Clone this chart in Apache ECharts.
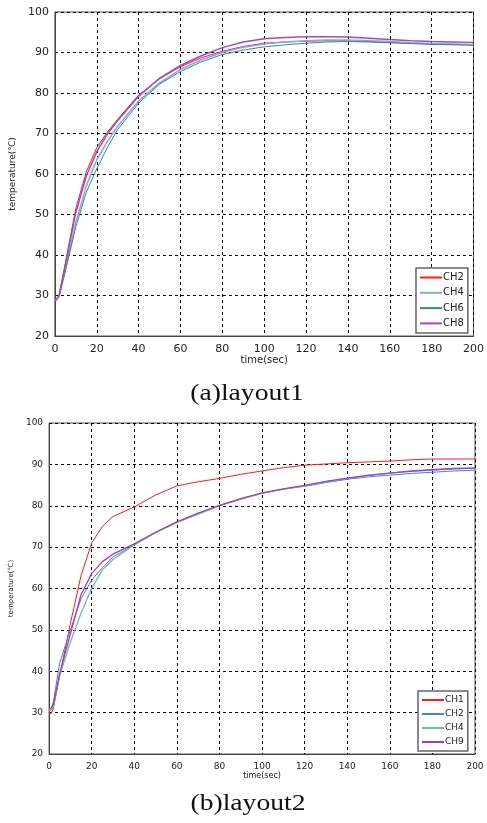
<!DOCTYPE html>
<html><head><meta charset="utf-8">
<script src="https://cdn.jsdelivr.net/npm/echarts@6/dist/echarts.min.js"></script>
<style>html,body{margin:0;padding:0;background:#fff}#c{width:487px;height:823px}</style>
</head><body><div id="c"></div>
<script>
// Chart (a) layout1
const timeA = [0,2,5,10,15,20,25,30,40,50,60,70,80,90,100,110,120,130,140,150,160,170,180,190,200];
const a_CH2 = [28.5,30,38,51.5,60.5,66.5,70.3,73.5,79.5,83.5,86.5,88.7,90.3,91.5,92.3,92.6,92.8,92.9,92.9,92.7,92.5,92.3,92.1,92.0,91.9];
const a_CH4 = [28.5,29.8,36.5,48,57,63.5,68,71.8,78,82.5,85.8,88.2,90,91.3,92.1,92.6,92.9,93.1,93.1,92.9,92.7,92.4,92.2,92.1,92.0];
const a_CH6 = [28.5,29.8,36,47,55.5,61.3,66.5,71,77.5,82.2,85.3,87.7,89.5,90.6,91.4,91.9,92.3,92.6,92.7,92.6,92.4,92.2,92.0,91.9,91.8];
const a_CH8 = [28.5,30,37.5,50.5,59.5,65.5,69.8,73.2,79.2,83.6,86.8,89.2,91.2,92.6,93.4,93.7,93.9,93.9,93.8,93.5,93.2,92.9,92.7,92.6,92.5];
// Chart (b) layout2
const timeB = [0,1,2,5,10,15,20,25,30,40,50,60,70,80,90,100,110,120,130,140,150,160,170,180,190,200];
const b_CH1 = [29.8,29.8,31,39,51.5,63.1,71,75,77.4,79.7,82.6,84.8,85.8,86.6,87.6,88.4,89.2,89.8,90.1,90.4,90.6,90.8,91.1,91.3,91.3,91.3];
const b_CH2 = [31,31,32.5,42,50,57.5,62,65,67.6,70.6,73.5,76,78,80,81.6,83,84,84.7,85.6,86.4,87,87.4,87.8,88.1,88.4,88.6];
const b_CH4 = [30.5,30.5,31.5,39,47,54,60,64.5,67,70.5,73.5,76,78,80,81.6,83,84,84.8,85.8,86.6,87.3,87.9,88.3,88.6,88.9,89.1];
const b_CH9 = [31,31,32,39.5,49,58.5,63.6,66.5,68.3,70.8,73.6,76.1,78.2,80.1,81.7,83.1,84.1,84.9,85.9,86.7,87.4,87.9,88.4,88.7,89.0,89.1];
const xTicks = [0,20,40,60,80,100,120,140,160,180,200];
const yTicks = [20,30,40,50,60,70,80,90,100];

const pair = (t, v) => t.map((x, i) => [x, v[i]]);
const chart = echarts.init(document.getElementById('c'), null, {renderer: 'canvas'});
const font = 'DejaVu Sans';
function xAx(gi, fs, gap) {
  return {type:'value', gridIndex:gi, min:xTicks[0], max:xTicks[xTicks.length-1], interval:20,
    name:'time(sec)', nameLocation:'middle', nameGap:gap,
    nameTextStyle:{fontFamily:font, fontSize:fs-1, color:'#222'},
    axisLine:{show:true, lineStyle:{color:'#444'}}, axisTick:{show:false},
    axisLabel:{fontFamily:font, fontSize:fs, color:'#222', margin:8},
    splitLine:{show:true, lineStyle:{color:'#000', type:[3,3], width:1}}};
}
function yAx(gi, fs, gap) {
  return {type:'value', gridIndex:gi, min:yTicks[0], max:yTicks[yTicks.length-1], interval:10,
    name:'temperature(℃)', nameLocation:'middle', nameGap:gap, nameRotate:90,
    nameTextStyle:{fontFamily:font, fontSize:fs-2, color:'#222'},
    axisLine:{show:true, lineStyle:{color:'#444'}}, axisTick:{show:false},
    axisLabel:{fontFamily:font, fontSize:fs, color:'#222', margin:6},
    splitLine:{show:true, lineStyle:{color:'#000', type:[3,3], width:1}}};
}
function ser(name, gi, t, v, color, w) {
  return {name, type:'line', xAxisIndex:gi, yAxisIndex:gi, data:pair(t, v), symbol:'none', showSymbol:false,
    smooth:false, lineStyle:{color, width:w}, itemStyle:{color}, animation:false, z:3};
}
function leg(names, left, top, fs, lh, gap) {
  return {orient:'vertical', left, top, data:names, backgroundColor:'#fff', borderColor:'#666', borderWidth:1.5,
    padding:[3,4,3,4], icon:'rect', itemWidth:22, itemHeight:2, itemGap:gap, borderRadius:0,
    formatter: n => n.slice(2), textStyle:{fontFamily:font, fontSize:fs, lineHeight:lh, color:'#222', padding:[0,0,0,-4]}, selectedMode:false};
}
chart.setOption({
  backgroundColor:'#fff',
  animation:false,
  grid:[{left:45, top:12, width:429, height:324, show:true, borderColor:'#555', borderWidth:1, backgroundColor:'#fff'},
        {left:43, top:423, width:432, height:331, show:true, borderColor:'#555', borderWidth:1, backgroundColor:'#fff'}],
  xAxis:[xAx(0, 11, 18), xAx(1, 9, 16)],
  yAxis:[yAx(0, 11, 17), yAx(1, 9, 19)],
  legend:[leg(['a:CH2','a:CH4','a:CH6','a:CH8'], 416, 268, 10, 13, 2.3),
          leg(['b:CH1','b:CH2','b:CH4','b:CH9'], 418, 691, 9, 12, 2)],
  series:[
    ser('a:CH2',0,timeA,a_CH2,'#ff1a1a',1),
    ser('a:CH4',0,timeA,a_CH4,'#7ea6ff',1.5),
    ser('a:CH6',0,timeA,a_CH6,'#3c9060',1),
    ser('a:CH8',0,timeA,a_CH8,'#a848b8',1.5),
    ser('b:CH1',1,timeB,b_CH1,'#ff1a1a',1),
    ser('b:CH2',1,timeB,b_CH2,'#4a78ff',1),
    ser('b:CH4',1,timeB,b_CH4,'#6cc09a',1.3),
    ser('b:CH9',1,timeB,b_CH9,'#a040b8',1.3)
  ],
  graphic:[
    {type:'text', x:247, y:382, scaleX:1.2, style:{text:'(a)layout1', textAlign:'center', font:'23px "Liberation Serif"', fill:'#111'}},
    {type:'text', x:248, y:792, scaleX:1.2, style:{text:'(b)layout2', textAlign:'center', font:'23px "Liberation Serif"', fill:'#111'}}
  ]
});
</script></body></html>
